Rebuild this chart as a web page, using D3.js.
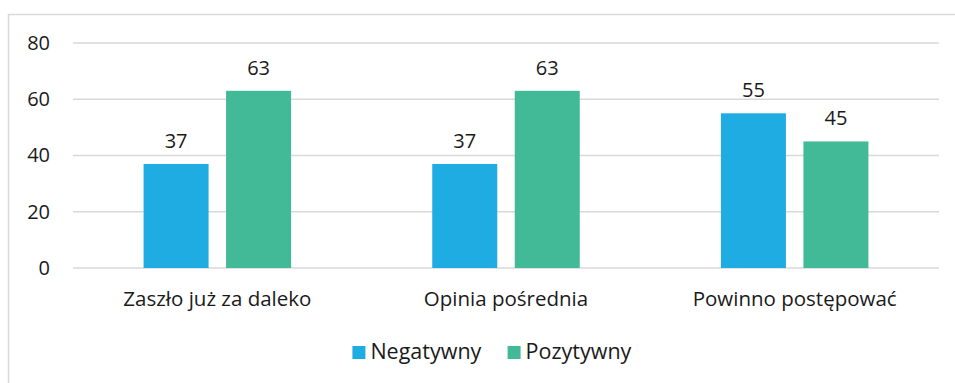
<!DOCTYPE html>
<html>
<head>
<meta charset="utf-8">
<script src="https://cdn.jsdelivr.net/npm/d3@7"></script>
<style>
  html, body { margin: 0; padding: 0; background: #fff; }
  svg text { font-family: "Open Sans", sans-serif; fill: #1a1a1a; }
</style>
</head>
<body>
<svg id="chart" width="955" height="383"></svg>
<script>
// Data
const categories = ["Zaszło już za daleko", "Opinia pośrednia", "Powinno postępować"];
const seriesNames = ["Negatywny", "Pozytywny"];
const negatywny = [37, 37, 55];
const pozytywny = [63, 63, 45];
const yTicks = [0, 20, 40, 60, 80];
const colors = ["#1FACE3", "#43BA97"];

const svg = d3.select("#chart");

// Outer frame (runs off the right and bottom edges)
svg.append("rect")
  .attr("x", 8.5).attr("y", 14.5)
  .attr("width", 960).attr("height", 400)
  .attr("fill", "none").attr("stroke", "#d9d9d9").attr("stroke-width", 1.5);

const plot = { left: 73, right: 939, top: 43, bottom: 268 };

const y = d3.scaleLinear().domain([0, 80]).range([plot.bottom, plot.top]);
const x0 = d3.scaleBand().domain(categories).range([plot.left, plot.right]).padding(0);
const groupW = 147.5;
const x1 = d3.scaleBand().domain(seriesNames).range([0, groupW]).paddingInner(17.5 / 82.5);
const groupOffset = (x0.bandwidth() - groupW) / 2;

// Gridlines
svg.append("g").selectAll("line").data(yTicks).join("line")
  .attr("x1", plot.left).attr("x2", plot.right)
  .attr("y1", d => y(d)).attr("y2", d => y(d))
  .attr("stroke", "#d9d9d9").attr("stroke-width", 1.5);

// Y axis labels
const yAxis = d3.axisLeft(y).tickValues(yTicks).tickSize(0).tickPadding(0);
const gy = svg.append("g").attr("transform", "translate(50,0)").call(yAxis);
gy.select(".domain").remove();
gy.selectAll("text").attr("font-size", 20).attr("font-family", "Open Sans, sans-serif").attr("fill", "#1a1a1a");

// Bars
const rows = categories.map((c, i) => ({ cat: c, vals: [negatywny[i], pozytywny[i]] }));
const groups = svg.append("g").selectAll("g").data(rows).join("g")
  .attr("transform", d => `translate(${x0(d.cat) + groupOffset},0)`);

groups.selectAll("rect").data(d => d.vals.map((v, j) => ({ s: seriesNames[j], v, j }))).join("rect")
  .attr("x", d => x1(d.s))
  .attr("y", d => y(d.v))
  .attr("width", x1.bandwidth())
  .attr("height", d => y(0) - y(d.v))
  .attr("fill", d => colors[d.j]);

// Value labels
groups.selectAll("text.val").data(d => d.vals.map((v, j) => ({ s: seriesNames[j], v, j }))).join("text")
  .attr("class", "val")
  .attr("x", d => x1(d.s) + x1.bandwidth() / 2)
  .attr("y", d => y(d.v) - 16)
  .attr("text-anchor", "middle")
  .attr("font-size", 20)
  .text(d => d.v);

// Category labels
const xAxis = d3.axisBottom(x0).tickSize(0).tickPadding(0);
const gx = svg.append("g").attr("transform", "translate(0,291)").call(xAxis);
gx.select(".domain").remove();
gx.selectAll("text").attr("font-size", 20.5).attr("font-family", "Open Sans, sans-serif")
  .attr("fill", "#1a1a1a").attr("dy", "0.75em");

// Legend
const legend = svg.append("g");
const items = legend.selectAll("g").data(seriesNames).join("g");
items.append("rect").attr("width", 13).attr("height", 13).attr("y", -13)
  .attr("fill", (d, i) => colors[i]);
items.append("text").attr("x", 18).attr("y", 0).attr("font-size", 21.5).text(d => d);
let cx = 0;
items.each(function () {
  const w = this.getBBox().width;
  d3.select(this).attr("transform", `translate(${cx},359)`);
  cx += w + 26;
});
const totalW = cx - 26;
legend.attr("transform", `translate(${492 - totalW / 2},0)`);
</script>
</body>
</html>
